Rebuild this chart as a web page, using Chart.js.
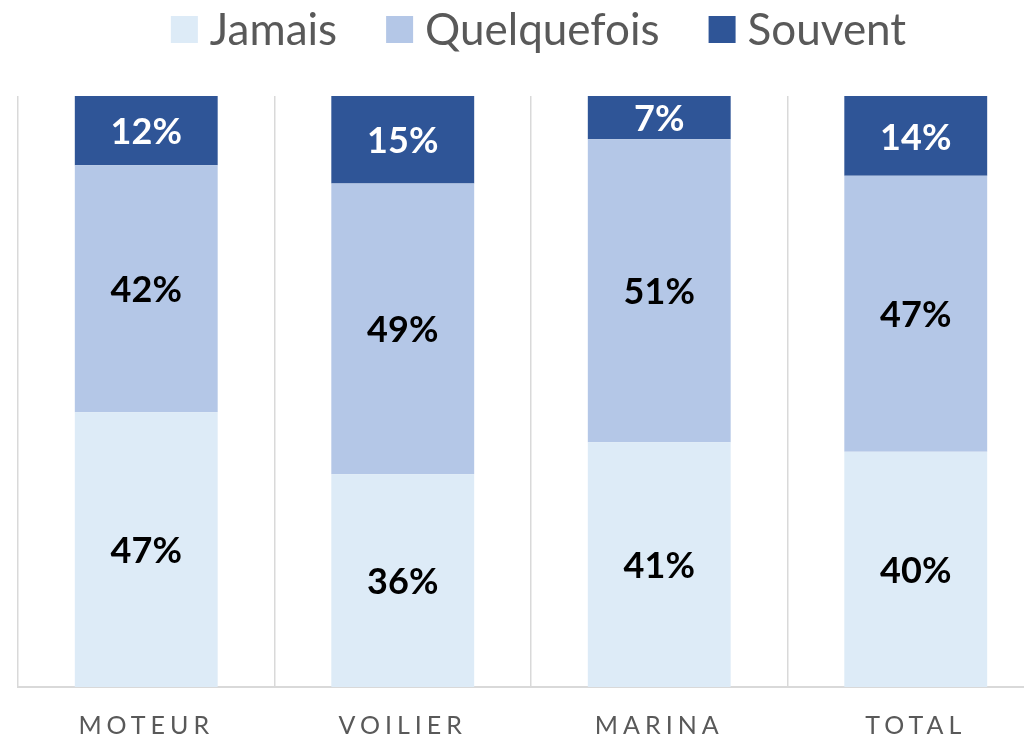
<!DOCTYPE html>
<html>
<head>
<meta charset="utf-8">
<script src="https://cdn.jsdelivr.net/npm/chart.js@4/dist/chart.umd.min.js"></script>
<style>
  html, body { margin: 0; padding: 0; background: #fff; overflow: hidden; }
  #wrap { width: 1077px; height: 739px; }
</style>
</head>
<body>
<div id="wrap"><canvas id="chart"></canvas></div>
<script>
const categories = ['MOTEUR', 'VOILIER', 'MARINA', 'TOTAL'];
const jamais = [46.5, 36.0, 41.4, 39.8];
const quelquefois = [41.8, 49.2, 51.3, 46.7];
const souvent = [11.7, 14.8, 7.3, 13.5];

const textGray = '#595959';

// letter spacing for the x axis labels only
const spacing = {
    id: 'spacing',
    beforeDraw(chart) { chart.ctx.letterSpacing = '5px'; },
    beforeDatasetsDraw(chart) { chart.ctx.letterSpacing = '0px'; }
};

// percentages written in the middle of each segment
const segLabels = {
    id: 'segLabels',
    afterDatasetsDraw(chart) {
        const ctx = chart.ctx;
        ctx.save();
        ctx.font = 'bold 36px Lato';
        ctx.textAlign = 'center';
        ctx.textBaseline = 'middle';
        chart.data.datasets.forEach((ds, i) => {
            chart.getDatasetMeta(i).data.forEach((bar, j) => {
                const p = bar.getCenterPoint();
                ctx.fillStyle = i === 2 ? '#ffffff' : '#000000';
                ctx.fillText(Math.round(ds.data[j]) + '%', p.x, p.y + 2);
            });
        });
        ctx.restore();
    }
};

// legend on top, drawn by hand to get the tight box/text gap
const topLegend = {
    id: 'topLegend',
    afterDraw(chart) {
        const ctx = chart.ctx;
        const box = 27, gap = 12, itemGap = 49;
        ctx.save();
        ctx.font = '44px Lato';
        ctx.textBaseline = 'alphabetic';
        const items = chart.data.datasets.map(ds => ({
            text: ds.label, color: ds.backgroundColor, w: ctx.measureText(ds.label).width
        }));
        let total = 0;
        items.forEach((it, i) => { total += box + gap + it.w + (i < items.length - 1 ? itemGap : 0); });
        let x = chart.width / 2 - total / 2;
        items.forEach(it => {
            ctx.fillStyle = it.color;
            ctx.fillRect(x, 16, box, box);
            ctx.fillStyle = textGray;
            ctx.fillText(it.text, x + box + gap, 45);
            x += box + gap + it.w + itemGap;
        });
        ctx.restore();
    }
};

new Chart(document.getElementById('chart'), {
    type: 'bar',
    data: {
        labels: categories,
        datasets: [
            { label: 'Jamais', data: jamais, backgroundColor: '#DDEBF7' },
            { label: 'Quelquefois', data: quelquefois, backgroundColor: '#B4C7E7' },
            { label: 'Souvent', data: souvent, backgroundColor: '#2F5597' }
        ]
    },
    options: {
        responsive: true,
        maintainAspectRatio: false,
        animation: false,
        layout: { padding: { top: 96, left: 18, right: 33, bottom: 0 } },
        datasets: { bar: { categoryPercentage: 1, barPercentage: 0.557 } },
        plugins: {
            legend: { display: false },
            tooltip: { enabled: false }
        },
        scales: {
            x: {
                stacked: true,
                afterFit: scale => { scale.height = 52; },
                grid: { color: '#d9d9d9', lineWidth: 1.5, drawTicks: false },
                border: { color: '#d9d9d9', width: 2 },
                ticks: {
                    color: textGray,
                    padding: 26,
                    font: { family: 'Lato', size: 25, lineHeight: 1 }
                }
            },
            y: {
                stacked: true,
                display: false,
                min: 0,
                max: 100
            }
        }
    },
    plugins: [spacing, segLabels, topLegend]
});
</script>
</body>
</html>
